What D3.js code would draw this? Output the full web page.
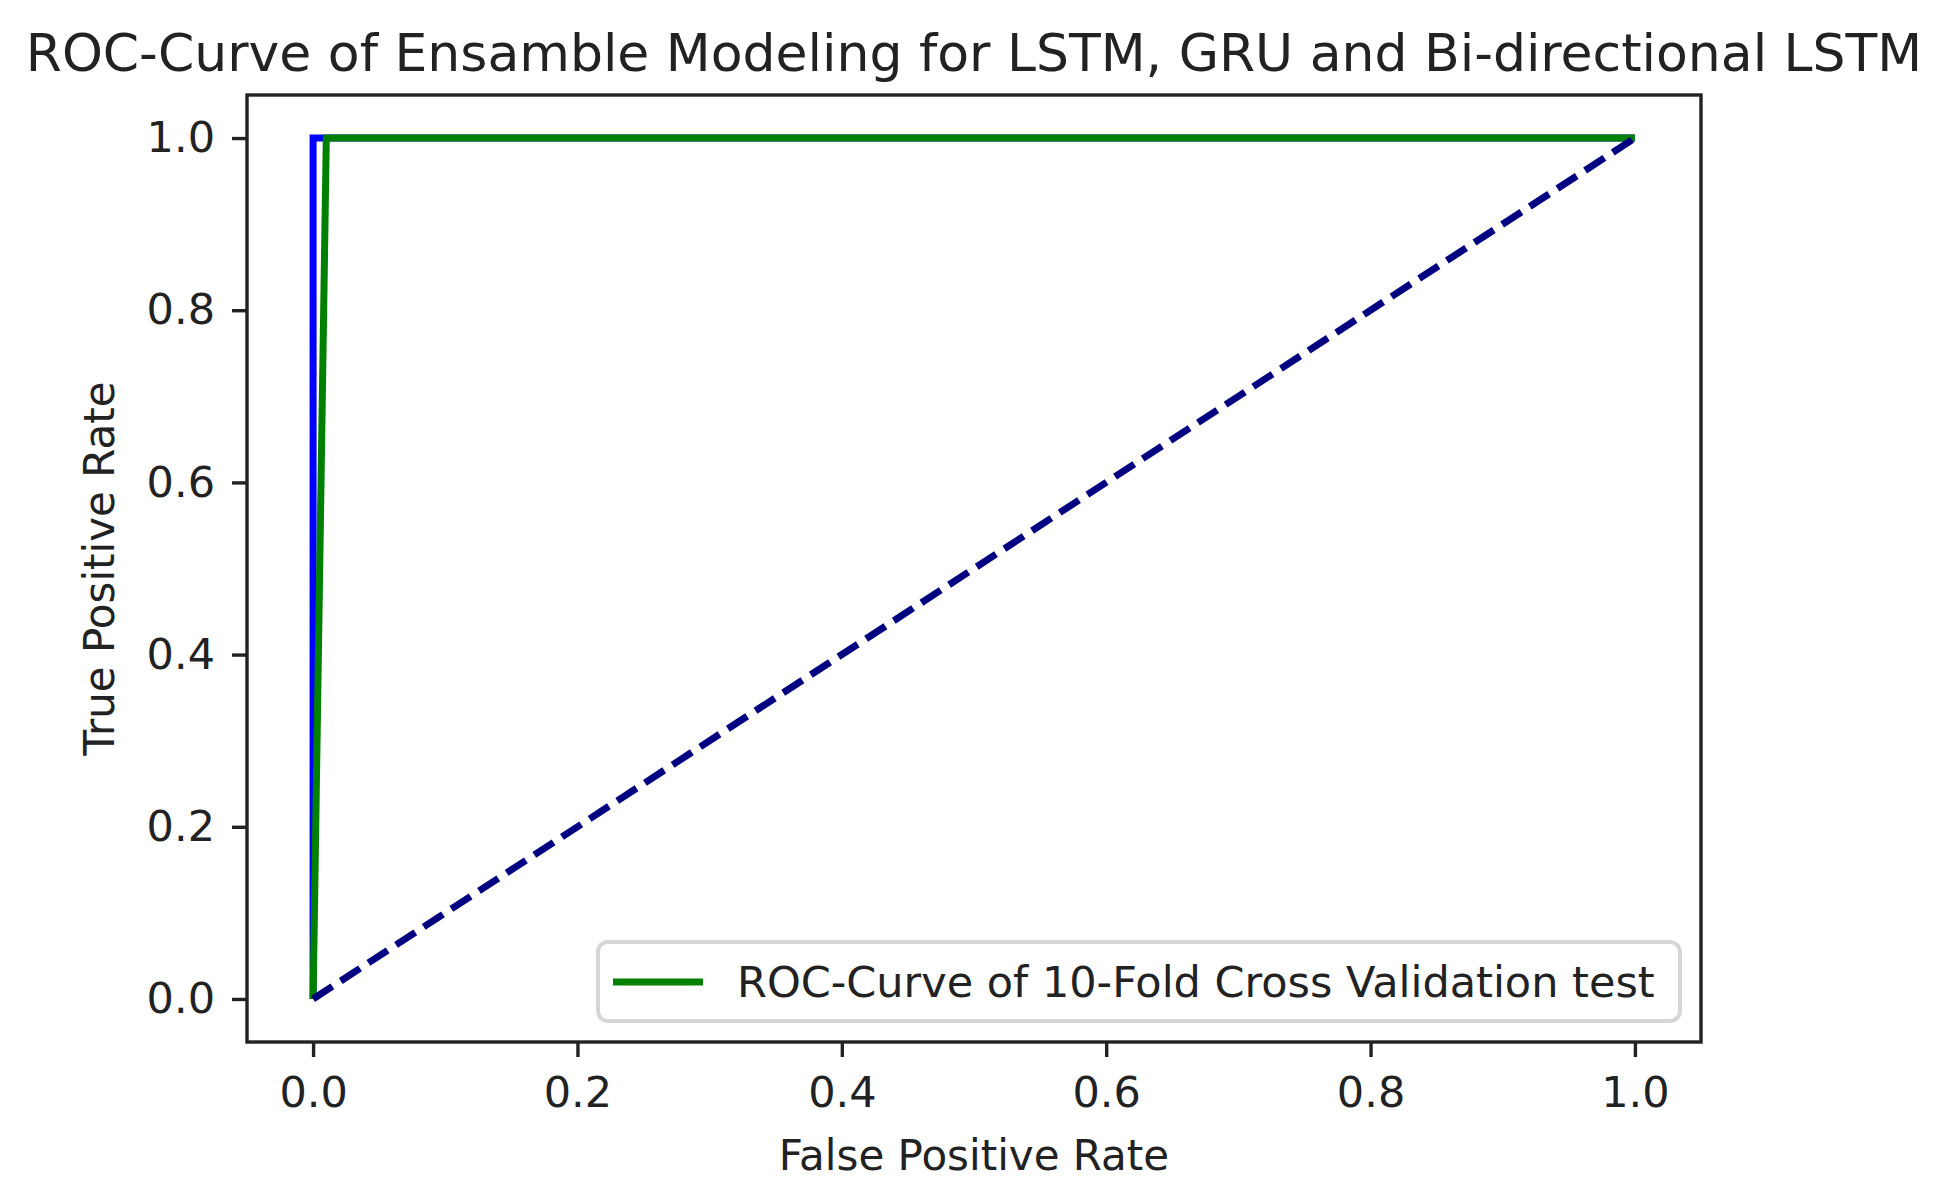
<!DOCTYPE html>
<html>
<head>
<meta charset="utf-8">
<script src="https://cdn.jsdelivr.net/npm/d3@7"></script>
<style>
  body{ margin:0; background:white; }
  text{ font-family:"DejaVu Sans", sans-serif; fill:#222; }
</style>
</head>
<body>
<svg id="chart" width="1935" height="1193"></svg>
<script>
// roc points
var fprBlue=[0,0,1]
var tprBlue=[0,1,1]
var fprGreen=[0,0.01,1]
var tprGreen=[0,1,1]
var fprChance=[0,1]
var tprChance=[0,1]
var xTicks=[0,0.2,0.4,0.6,0.8,1.0]
var yTicks=[0,0.2,0.4,0.6,0.8,1.0]
var titleText="ROC-Curve of Ensamble Modeling for LSTM, GRU and Bi-directional LSTM"
var legendText="ROC-Curve of 10-Fold Cross Validation test"

// plot box (window.top is read only, so no "top" here)
var plotLeft=247, plotRight=1701, plotTop=95, plotBottom=1042

var svg=d3.select('#chart')
svg.append("rect").attr("width",1935).attr("height",1193).attr("fill","white")

var x=d3.scaleLinear().domain([-0.05,1.05]).range([plotLeft,plotRight])
var y=d3.scaleLinear().domain([-0.05,1.05]).range([plotBottom,plotTop])

function toPoints(xs,ys){
	return xs.map(function(d,i){ return [d,ys[i]] })
}
var line=d3.line()
	.x(function(d){ return x(d[0]) })
	.y(function(d){ return y(d[1]) })

var plot=svg.append("g")

plot.append("path")
	.datum(toPoints(fprBlue,tprBlue))
	.attr("d",line)
	.attr("fill","none")
	.attr("stroke","#0000ff")
	.attr("stroke-width",7)

plot.append("path")
	.datum(toPoints(fprGreen,tprGreen))
	.attr("d",line)
	.attr("fill","none")
	.attr("stroke","#008000")
	.attr("stroke-width",7)

plot.append("path")
	.datum(toPoints(fprChance,tprChance))
	.attr("d",line)
	.attr("fill","none")
	.attr("stroke","#000080")
	.attr("stroke-width",7)
	.attr("stroke-dasharray","23,10")

// axes
svg.append("g")
	.attr("transform","translate(0,"+plotBottom+")")
	.call(d3.axisBottom(x).tickValues(xTicks).tickFormat(d3.format(".1f")).tickSize(15).tickPadding(19))
svg.append("g")
	.attr("transform","translate("+plotLeft+",0)")
	.call(d3.axisLeft(y).tickValues(yTicks).tickFormat(d3.format(".1f")).tickSize(15).tickPadding(17))

svg.selectAll(".domain").remove()
svg.selectAll(".tick line").attr("stroke","#222").attr("stroke-width",3.4)
svg.selectAll(".tick text")
	.style("font-family","DejaVu Sans")
	.style("font-size","43px")
	.attr("fill","#222")

// spines
svg.append("rect")
	.attr("x",plotLeft)
	.attr("y",plotTop)
	.attr("width",plotRight-plotLeft)
	.attr("height",plotBottom-plotTop)
	.attr("fill","none")
	.attr("stroke","#222")
	.attr("stroke-width",3.4)

// legend
var lg=svg.append("g")
lg.append("rect")
	.attr("x",598)
	.attr("y",942)
	.attr("width",1680-598)
	.attr("height",1021-942)
	.attr("rx",10)
	.attr("fill","white")
	.attr("fill-opacity",0.8)
	.attr("stroke","#d6d6d6")
	.attr("stroke-width",4)
lg.append("line")
	.attr("x1",613).attr("x2",703)
	.attr("y1",982).attr("y2",982)
	.attr("stroke","#008000")
	.attr("stroke-width",7)
lg.append("text")
	.attr("x",737)
	.attr("y",982)
	.attr("dy","0.36em")
	.style("font-size","43px")
	.text(legendText)

// title and labels
svg.append("text")
	.attr("x",(plotLeft+plotRight)/2)
	.attr("y",71)
	.attr("text-anchor","middle")
	.style("font-size","52px")
	.text(titleText)

svg.append("text")
	.attr("x",(plotLeft+plotRight)/2)
	.attr("y",1170)
	.attr("text-anchor","middle")
	.style("font-size","42px")
	.text("False Positive Rate")

svg.append("text")
	.attr("transform","translate(114,"+((plotTop+plotBottom)/2)+") rotate(-90)")
	.attr("text-anchor","middle")
	.style("font-size","42px")
	.text("True Positive Rate")
</script>
</body>
</html>
